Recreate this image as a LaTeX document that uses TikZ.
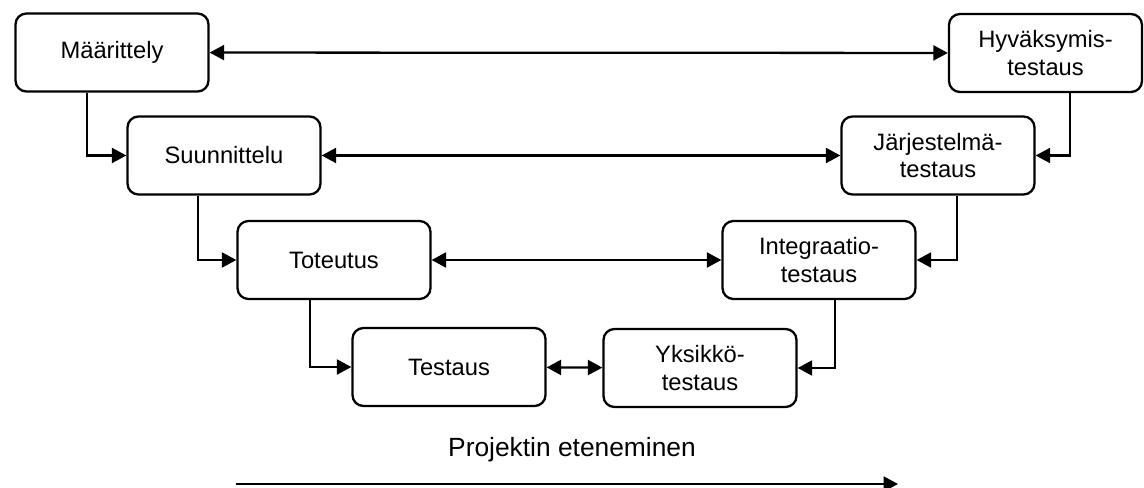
\documentclass[tikz,border=0pt]{standalone}
\usepackage{fontspec}
\setmainfont{Liberation Sans}
\usetikzlibrary{arrows.meta, positioning}

\begin{document}
\begin{tikzpicture}[
    font=\fontsize{13.5}{15.5}\selectfont,
    block/.style={draw=black, fill=white, line width=1.3pt, rectangle, rounded corners=0.22cm, minimum height=1.56cm, minimum width=3.86cm, align=center},
    arr/.style={draw=black, line width=1.3pt, -{Triangle[length=0.29cm, width=0.30cm]}},
    biarr/.style={arr, {Triangle[length=0.29cm, width=0.30cm]}-{Triangle[length=0.29cm, width=0.30cm]}}
]
    \useasboundingbox (0,0) rectangle (22.88,-9.76);

    % left branch
    \node [block] (maarittely) at (2.24, -1.05) {Määrittely};
    \node [block] (suunnittelu) at (4.48, -3.11) {Suunnittelu};
    \node [block] (toteutus) at (6.68, -5.20) {Toteutus};
    \node [block] (testaus) at (8.98, -7.34) {Testaus};

    % right branch
    \node [block] (hyvaksymis) at (20.91, -1.06) {Hyväksymis-\\testaus};
    \node [block] (jarjestelma) at (18.76, -3.11) {Järjestelmä-\\testaus};
    \node [block] (integraatio) at (16.38, -5.20) {Integraatio-\\testaus};
    \node [block] (yksikko) at (14.00, -7.36) {Yksikkö-\\testaus};

    \node [font=\fontsize{15}{17}\selectfont] (progress) at (11.44, -8.99) {Projektin eteneminen};
    \coordinate (prog_start) at (4.72, -9.68);
    \coordinate (prog_end) at (17.96, -9.68);

    \draw [arr] ([xshift=-0.5cm]maarittely.south) |- (suunnittelu.west);
    \draw [arr] ([xshift=-0.52cm]suunnittelu.south) |- (toteutus.west);
    \draw [arr] ([xshift=-0.48cm]toteutus.south) |- (testaus.west);

    \draw [arr] ([xshift=0.49cm]hyvaksymis.south) |- (jarjestelma.east);
    \draw [arr] ([xshift=0.38cm]jarjestelma.south) |- (integraatio.east);
    \draw [arr] ([xshift=0.32cm]integraatio.south) |- (yksikko.east);

    \draw [biarr] (maarittely) -- (hyvaksymis);
    \draw [biarr] (suunnittelu) -- (jarjestelma);
    \draw [biarr] (toteutus) -- (integraatio);
    \draw [biarr] (testaus) -- (yksikko);

    \draw [arr] (prog_start) -- (prog_end);

\end{tikzpicture}
\end{document}
